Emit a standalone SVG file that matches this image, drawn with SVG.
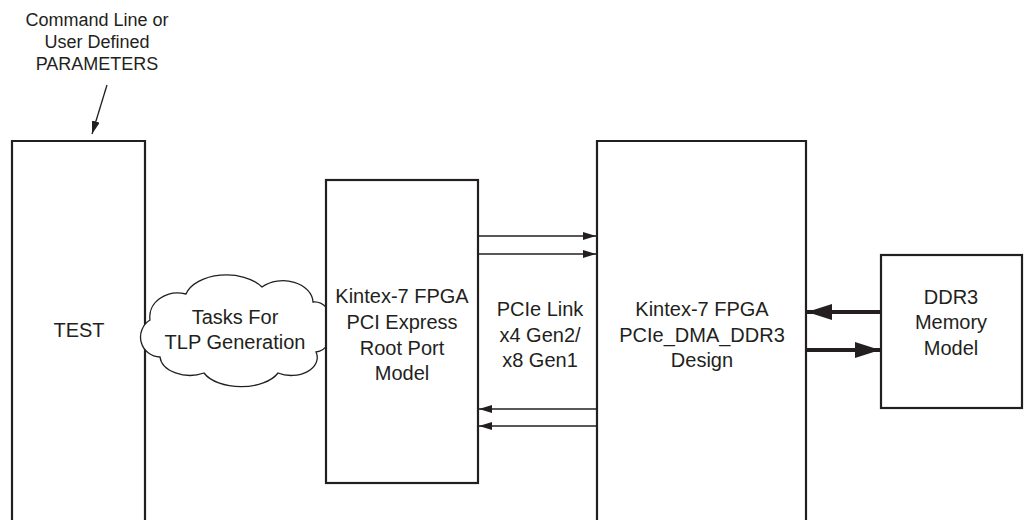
<svg xmlns="http://www.w3.org/2000/svg" width="1035" height="520" viewBox="0 0 1035 520">
<style>
.box{fill:#fff;stroke:#231f20;stroke-width:2.2}
.t{font-family:"Liberation Sans",Arial,sans-serif;font-size:20px;fill:#231f20;text-anchor:middle}
.ts{font-family:"Liberation Sans",Arial,sans-serif;font-size:18px;fill:#231f20;text-anchor:middle}
.thin{stroke:#231f20;stroke-width:1.3;fill:none}
.thick{stroke:#231f20;stroke-width:4;fill:none}
</style>
<defs>
<marker id="ah" markerUnits="userSpaceOnUse" markerWidth="14" markerHeight="8" refX="13" refY="4" orient="auto">
<path d="M0,0 L13,4 L0,8 Z" fill="#231f20"/>
</marker>
<marker id="ahb" markerUnits="userSpaceOnUse" markerWidth="26" markerHeight="16" refX="25" refY="8" orient="auto">
<path d="M0,0 L25,8 L0,16 Z" fill="#231f20"/>
</marker>
</defs>
<g id="params">
<text class="ts" x="97" y="26">Command Line or</text>
<text class="ts" x="97" y="48">User Defined</text>
<text class="ts" x="97" y="70">PARAMETERS</text>
</g>
<g id="test">
<path class="box" d="M12,522 V141 H145 V522"/>
<text class="t" x="79" y="337">TEST</text>
</g>
<g id="cloud">
<path fill="#fff" stroke="#231f20" stroke-width="1.3" d="M150,320 A28,24 0 0 1 186,294 A42,26 0 0 1 262,287 A30,22 0 0 1 313,302 A18,24 0 0 1 316,352 A26,18 0 0 1 278,373 A40,22 0 0 1 204,373 A30,20 0 0 1 160,357 A20,20 0 0 1 150,320 Z"/>
<text class="t" x="235" y="324">Tasks For</text>
<text class="t" x="235" y="349">TLP Generation</text>
</g>
<g id="rootport">
<rect class="box" x="326" y="180" width="152" height="303"/>
<text class="t" x="402" y="303">Kintex-7 FPGA</text>
<text class="t" x="402" y="329">PCI Express</text>
<text class="t" x="402" y="355">Root Port</text>
<text class="t" x="402" y="380">Model</text>
</g>
<g id="link">
<text class="t" x="540" y="316">PCIe Link</text>
<text class="t" x="540" y="342">x4 Gen2/</text>
<text class="t" x="540" y="367">x8 Gen1</text>
</g>
<g id="design">
<path class="box" d="M597,522 V141 H806 V522"/>
<text class="t" x="702" y="316">Kintex-7 FPGA</text>
<text class="t" x="702" y="342">PCIe_DMA_DDR3</text>
<text class="t" x="702" y="367">Design</text>
</g>
<g id="ddr3">
<rect class="box" x="881" y="255" width="141" height="153"/>
<text class="t" x="951" y="304">DDR3</text>
<text class="t" x="951" y="329">Memory</text>
<text class="t" x="951" y="355">Model</text>
</g>
<g id="connectors">
<line class="thin" x1="107" y1="85" x2="92" y2="134" marker-end="url(#ah)"/>
<line class="thin" x1="479" y1="236" x2="596" y2="236" marker-end="url(#ah)"/>
<line class="thin" x1="479" y1="254" x2="596" y2="254" marker-end="url(#ah)"/>
<line class="thin" x1="596" y1="409" x2="479" y2="409" marker-end="url(#ah)"/>
<line class="thin" x1="596" y1="426" x2="479" y2="426" marker-end="url(#ah)"/>
<line class="thick" x1="880" y1="312" x2="807" y2="312" marker-end="url(#ahb)"/>
<line class="thick" x1="807" y1="350" x2="880" y2="350" marker-end="url(#ahb)"/>
</g>
</svg>
